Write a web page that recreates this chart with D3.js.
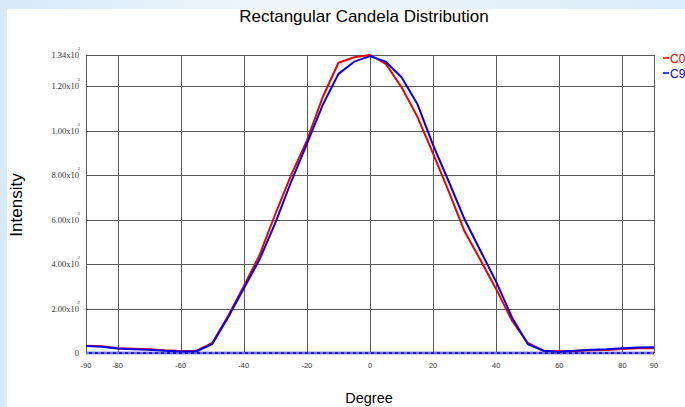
<!DOCTYPE html>
<html>
<head>
<meta charset="utf-8">
<script src="https://cdn.jsdelivr.net/npm/d3@7"></script>
<style>
  html, body { margin: 0; padding: 0; }
  body { width: 685px; height: 407px; overflow: hidden;
         background: linear-gradient(90deg, #d8eaf8, #eef6fc 40%, #dcecf8); }
</style>
</head>
<body>
<svg id="chart" width="685" height="407"></svg>
<script>
// Data
const degrees = [-90, -85, -80, -75, -70, -65, -60, -55, -50, -45, -40, -35, -30, -25, -20, -15, -10, -5,
  0, 5, 10, 15, 20, 25, 30, 35, 40, 45, 50, 55, 60, 65, 70, 75, 80, 85, 90];
const c0 = [33, 30, 21, 19, 17, 12, 9, 9, 45, 165, 300, 440, 625, 800, 955, 1150, 1305, 1330,
  1340, 1300, 1195, 1063, 897, 725, 546, 418, 287, 145, 45, 10, 8, 9, 12, 13, 18, 21, 21];
const c9 = [31, 28, 20, 17, 15, 10, 7, 8, 40, 160, 290, 420, 585, 770, 940, 1115, 1255, 1310,
  1335, 1310, 1240, 1120, 935, 770, 600, 460, 320, 160, 40, 10, 6, 10, 15, 17, 21, 25, 26];
const baseline = [0, 0];
const xTicks = [-90, -80, -60, -40, -20, 0, 20, 40, 60, 80, 90];
const yTicks = [0, 200, 400, 600, 800, 1000, 1200, 1340];
const yTickText = ["0", "2.00x10", "4.00x10", "6.00x10", "8.00x10", "1.00x10", "1.20x10", "1.34x10"];
const yTickExp = ["", "2", "2", "2", "2", "3", "3", "3"];
const seriesNames = ["C0", "C9"];
const seriesColors = ["#ee0000", "#0000ee"];

const margin = { top: 55, right: 31, bottom: 54, left: 86 };
const width = 685, height = 407;

const svg = d3.select("#chart");

// white panel over the blue page background
svg.append("rect")
  .attr("x", 7).attr("y", 9)
  .attr("width", width - 7).attr("height", height - 9)
  .attr("fill", "#ffffff");

const x = d3.scaleLinear().domain([-90, 90]).range([margin.left, width - margin.right]);
const y = d3.scaleLinear().domain([0, 1340]).range([height - margin.bottom, margin.top]);

// grid
const grid = svg.append("g").attr("stroke", "#5a5a5a").attr("stroke-width", 1);
grid.selectAll("line.v")
  .data(xTicks)
  .join("line")
    .attr("class", "v")
    .attr("x1", d => Math.round(x(d)) + 0.5).attr("x2", d => Math.round(x(d)) + 0.5)
    .attr("y1", y(1340)).attr("y2", y(0));
grid.selectAll("line.h")
  .data(yTicks)
  .join("line")
    .attr("class", "h")
    .attr("x1", x(-90)).attr("x2", x(90))
    .attr("y1", d => Math.round(y(d)) + 0.5).attr("y2", d => Math.round(y(d)) + 0.5);

// x tick labels
svg.append("g")
  .selectAll("text")
  .data(xTicks)
  .join("text")
    .attr("x", d => x(d))
    .attr("y", y(0) + 15)
    .attr("text-anchor", "middle")
    .attr("font-family", "Liberation Sans, Arial, sans-serif")
    .attr("font-size", 7.5)
    .attr("fill", "#333")
    .text(d => d);

// y tick labels with superscript exponent
const yl = svg.append("g")
  .attr("font-family", "Liberation Serif, Times New Roman, serif")
  .attr("fill", "#333");
yl.selectAll("text.m")
  .data(yTicks)
  .join("text")
    .attr("class", "m")
    .attr("x", margin.left - 7)
    .attr("y", d => y(d) + 3)
    .attr("text-anchor", "end")
    .attr("font-size", 8.5)
    .text((d, i) => yTickText[i]);
yl.selectAll("text.e")
  .data(yTicks)
  .join("text")
    .attr("class", "e")
    .attr("x", margin.left - 6)
    .attr("y", d => y(d) - 5)
    .attr("text-anchor", "end")
    .attr("font-size", 5)
    .text((d, i) => yTickExp[i]);

// dashed zero line
const zeroLine = d3.line().x((d, i) => x(i === 0 ? -90 : 90)).y(d => y(d));
svg.append("path").datum(baseline)
  .attr("d", zeroLine).attr("fill", "none")
  .attr("stroke", "#1a1aee").attr("stroke-width", 2.5);
svg.append("path").datum(baseline)
  .attr("d", zeroLine).attr("fill", "none")
  .attr("stroke", "#ffffff").attr("stroke-width", 0.8)
  .attr("stroke-dasharray", "3,3");

// curves
const line = d3.line().x((d, i) => x(degrees[i])).y(d => y(d));
[c0, c9].forEach((vals, k) => {
  svg.append("path")
    .datum(vals)
    .attr("d", line)
    .attr("fill", "none")
    .attr("stroke", seriesColors[k])
    .attr("stroke-width", 2)
    .attr("stroke-linejoin", "round");
});

// legend
const legend = svg.append("g")
  .selectAll("g")
  .data(seriesNames)
  .join("g")
    .attr("transform", (d, i) => `translate(663, ${58 + i * 15})`);
legend.append("line")
  .attr("x1", 0).attr("x2", 6).attr("y1", 0).attr("y2", 0)
  .attr("stroke", (d, i) => seriesColors[i]).attr("stroke-width", 1.5);
legend.append("text")
  .attr("x", 7).attr("y", 4.5)
  .attr("font-family", "Liberation Sans, Arial, sans-serif")
  .attr("font-size", 12)
  .attr("fill", (d, i) => seriesColors[i])
  .text(d => d);

// titles
svg.append("text")
  .attr("x", 364).attr("y", 22)
  .attr("text-anchor", "middle")
  .attr("font-family", "Liberation Sans, Arial, sans-serif")
  .attr("font-size", 17)
  .attr("fill", "#000")
  .text("Rectangular Candela Distribution");

svg.append("text")
  .attr("x", 369).attr("y", 403)
  .attr("text-anchor", "middle")
  .attr("font-family", "Liberation Sans, Arial, sans-serif")
  .attr("font-size", 14.5)
  .attr("fill", "#000")
  .text("Degree");

svg.append("text")
  .attr("transform", "translate(22, 205) rotate(-90)")
  .attr("text-anchor", "middle")
  .attr("font-family", "Liberation Sans, Arial, sans-serif")
  .attr("font-size", 17)
  .attr("fill", "#000")
  .text("Intensity");
</script>
</body>
</html>
